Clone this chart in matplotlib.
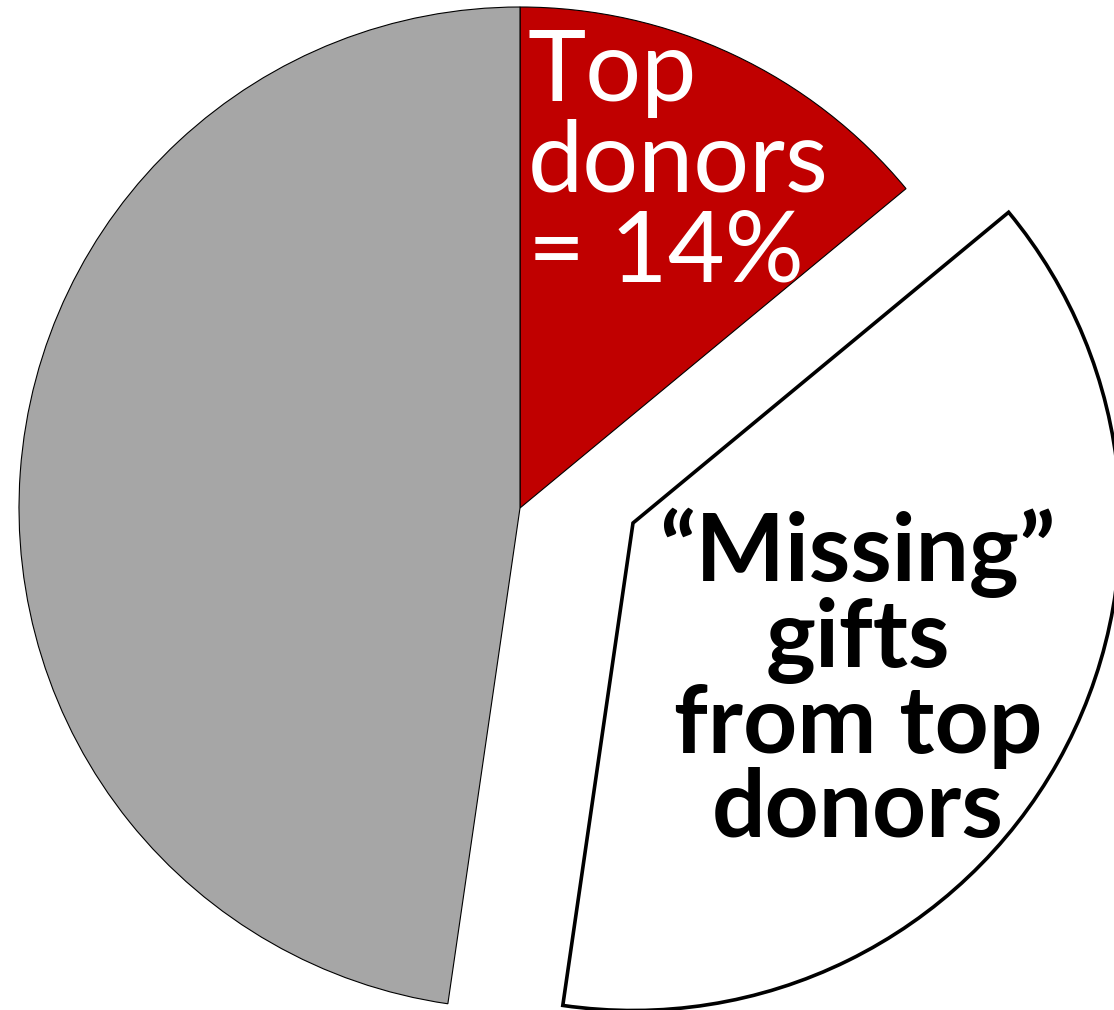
import matplotlib
matplotlib.use("Agg")
import matplotlib.pyplot as plt

# share of total giving
labels = ["Top donors", "Missing gifts", "Everyone else"]
shares = [14, 38.3, 47.7]
colors = ["#C00000", "#FFFFFF", "#A6A6A6"]

PX = 500.0  # pixels per data unit

fig = plt.figure(figsize=(11.14, 10.10), dpi=100)
ax = fig.add_axes([0, 0, 1, 1])

wedges, _ = ax.pie(
    shares,
    colors=colors,
    startangle=90,
    counterclock=False,
    radius=1.002,
    wedgeprops=dict(edgecolor="black", linewidth=0.8),
)

# pie() resets the limits, so pin them afterwards
ax.set_xlim(-520 / PX, (1114 - 520) / PX)
ax.set_ylim(-(1010 - 508) / PX, 508 / PX)
ax.set_aspect("equal")
ax.axis("off")

# pull the "missing" slice out to the right
missing = wedges[1]
missing.set_center((113 / PX, -15 / PX))
missing.set_radius(0.975)
missing.set_linewidth(2.6)
missing.set_zorder(3)

ax.text(
    0.015, 0.96, "Top\ndonors\n= 14%",
    color="white", fontsize=71, family=["Lato", "DejaVu Sans"],
    ha="left", va="top", linespacing=1.0, zorder=4,
)
ax.text(
    0.676, 0.0, "\u201cMissing\u201d\ngifts\nfrom top\ndonors",
    color="black", fontsize=68, fontweight="bold",
    family=["Lato", "DejaVu Sans"],
    ha="center", va="top", multialignment="center",
    linespacing=0.98, zorder=4,
)

fig.savefig("out.png", dpi=100)
